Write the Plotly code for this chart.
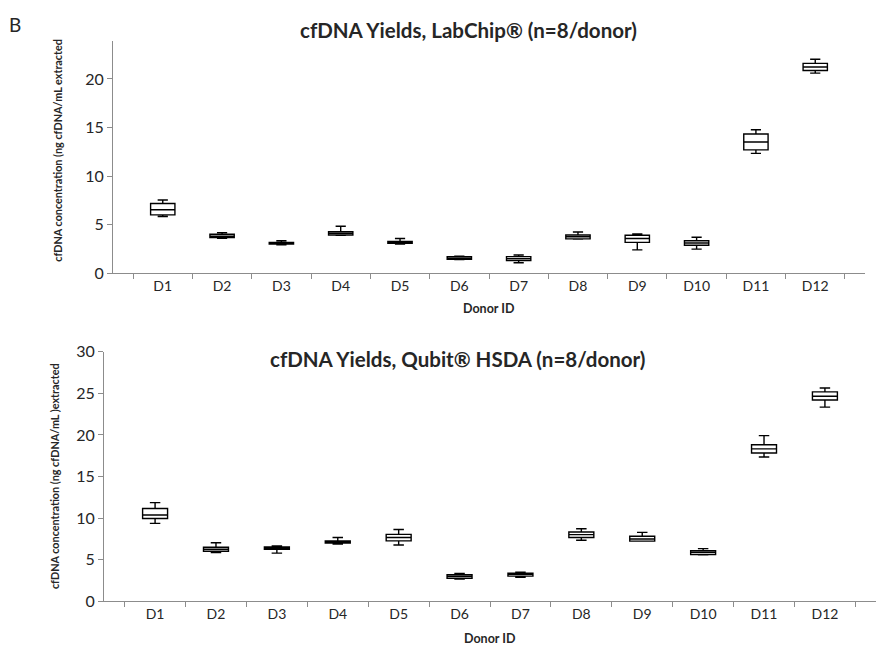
import plotly.graph_objects as go

donors = ["D1", "D2", "D3", "D4", "D5", "D6", "D7", "D8", "D9", "D10", "D11", "D12"]

# LabChip (top panel)
lab_low = [5.83, 3.60, 2.93, 3.90, 3.00, 1.40, 1.07, 3.50, 2.40, 2.47, 12.33, 20.60]
lab_q1 = [6.00, 3.67, 3.00, 3.93, 3.07, 1.43, 1.30, 3.53, 3.17, 2.87, 12.70, 20.87]
lab_med = [6.53, 3.80, 3.05, 4.10, 3.15, 1.55, 1.50, 3.75, 3.57, 3.10, 13.50, 21.23]
lab_q3 = [7.17, 4.00, 3.17, 4.27, 3.27, 1.70, 1.70, 3.93, 3.90, 3.33, 14.33, 21.60]
lab_high = [7.53, 4.17, 3.33, 4.83, 3.57, 1.75, 1.87, 4.23, 4.03, 3.70, 14.77, 22.03]

# Qubit HSDA (bottom panel)
qb_low = [9.38, 5.87, 5.80, 6.89, 6.77, 2.68, 2.88, 7.35, 7.30, 5.60, 17.36, 23.35]
qb_q1 = [9.96, 6.03, 6.27, 7.00, 7.27, 2.77, 3.03, 7.67, 7.24, 5.64, 17.83, 24.20]
qb_med = [10.39, 6.27, 6.40, 7.15, 7.67, 3.00, 3.25, 8.02, 7.50, 5.90, 18.33, 24.66]
qb_q3 = [11.17, 6.50, 6.54, 7.27, 8.05, 3.19, 3.39, 8.33, 7.82, 6.10, 18.83, 25.18]
qb_high = [11.87, 7.04, 6.65, 7.67, 8.64, 3.35, 3.50, 8.72, 8.29, 6.34, 19.92, 25.64]

y_ticks_top = [0, 5, 10, 15, 20]
y_ticks_bot = [0, 5, 10, 15, 20, 25, 30]

FONT = "Lato"
TXT = "#262626"
AX = "#8c8c8c"

fig = go.Figure()

box_style = dict(
    line=dict(color="black", width=1.4),
    fillcolor="white",
    width=0.41,
    whiskerwidth=0.42,
    boxpoints=False,
    showlegend=False,
    hoverinfo="skip",
)

fig.add_trace(go.Box(x=donors, lowerfence=lab_low, q1=lab_q1, median=lab_med,
                     q3=lab_q3, upperfence=lab_high, xaxis="x", yaxis="y", **box_style))
fig.add_trace(go.Box(x=donors, lowerfence=qb_low, q1=qb_q1, median=qb_med,
                     q3=qb_q3, upperfence=qb_high, xaxis="x2", yaxis="y2", **box_style))

W, H = 884, 656

def px_x(p):
    return p / W

def px_y(p):
    return 1 - p / H

xcommon = dict(
    type="category", showline=True, linecolor=AX, linewidth=1,
    ticks="outside", tickson="boundaries", ticklen=5, tickcolor=AX,
    showgrid=False, zeroline=False,
    tickfont=dict(family=FONT, size=14, color=TXT),
    categoryorder="array", categoryarray=donors,
)
ycommon = dict(
    showline=True, linecolor=AX, linewidth=1,
    ticks="outside", ticklen=5, tickcolor=AX,
    showgrid=False, zeroline=False,
    tickfont=dict(family=FONT, size=16, color=TXT),
)

fig.update_layout(
    width=W, height=H,
    margin=dict(l=0, r=0, t=0, b=0),
    paper_bgcolor="white", plot_bgcolor="white",
    xaxis=dict(domain=[px_x(113), px_x(865)], anchor="y", **xcommon),
    yaxis=dict(domain=[px_y(271), px_y(32)], anchor="x", range=[0, 23.9],
               tickvals=y_ticks_top, **ycommon),
    xaxis2=dict(domain=[px_x(104), px_x(876)], anchor="y2", **xcommon),
    yaxis2=dict(domain=[px_y(609), px_y(352)], anchor="x2", range=[0, 30],
                tickvals=y_ticks_bot, **ycommon),
)

annots = [
    dict(text="B", x=px_x(15), y=px_y(15), font=dict(family=FONT, size=19, color=TXT)),
    dict(text="<b>cfDNA Yields, LabChip® (n=8/donor)</b>", x=px_x(468), y=px_y(21),
         font=dict(family=FONT, size=20.5, color=TXT)),
    dict(text="<b>cfDNA Yields, Qubit® HSDA (n=8/donor)</b>", x=px_x(457), y=px_y(359),
         font=dict(family=FONT, size=20.5, color=TXT)),
    dict(text="<b>Donor ID</b>", x=px_x(489), y=px_y(307),
         font=dict(family=FONT, size=12.5, color=TXT)),
    dict(text="<b>Donor ID</b>", x=px_x(490), y=px_y(647),
         font=dict(family=FONT, size=12.5, color=TXT)),
    dict(text="<b>cfDNA concentration (ng cfDNA/mL extracted</b>", x=px_x(58), y=px_y(145),
         textangle=-90, font=dict(family=FONT, size=10.8, color=TXT)),
    dict(text="<b>cfDNA concentration (ng cfDNA/mL )extracted</b>", x=px_x(54), y=px_y(480),
         textangle=-90, font=dict(family=FONT, size=10.8, color=TXT)),
]
for a in annots:
    a.update(xref="paper", yref="paper", showarrow=False, xanchor="center", yanchor="middle")
fig.update_layout(annotations=annots)

fig.write_html("out.html")
